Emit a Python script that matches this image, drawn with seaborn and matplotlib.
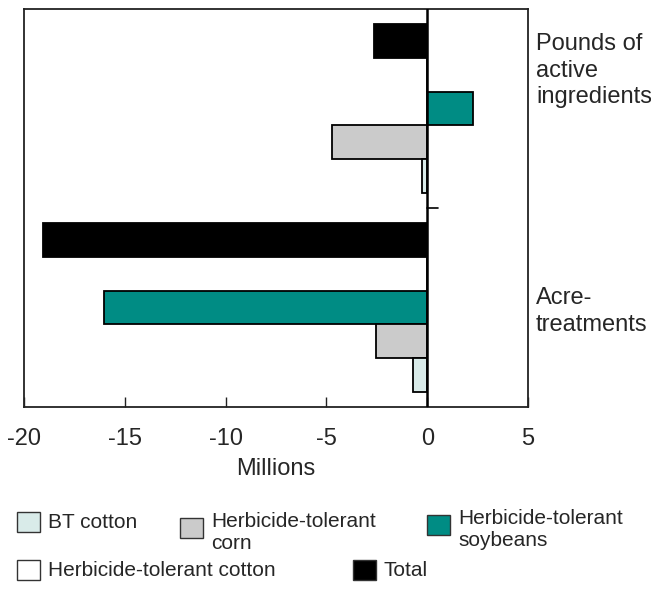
import matplotlib
matplotlib.use("Agg")
import matplotlib.pyplot as plt
from matplotlib.patches import Rectangle
import seaborn as sns
import pandas as pd

# ---- data ----
groups = ["Pounds of active ingredients", "Acre-treatments"]
group_labels = ["Pounds of\nactive\ningredients", "Acre-\ntreatments"]
crops = ["BT cotton", "Herbicide-tolerant corn", "Herbicide-tolerant soybeans",
         "Herbicide-tolerant cotton", "Total"]
legend_labels = ["BT cotton", "Herbicide-tolerant\ncorn", "Herbicide-tolerant\nsoybeans",
                 "Herbicide-tolerant cotton", "Total"]
bt_cotton = [-0.28, -0.68]
ht_corn = [-4.72, -2.52]
ht_soybeans = [2.25, -16.05]
ht_cotton = [0.0, 0.0]
total = [-2.62, -19.05]
x_ticks = [-20, -15, -10, -5, 0, 5]
colors = {"BT cotton": "#d9ebe9", "Herbicide-tolerant corn": "#cbcbcb",
          "Herbicide-tolerant soybeans": "#008c84", "Herbicide-tolerant cotton": "#ffffff",
          "Total": "#000000"}

series = {"BT cotton": bt_cotton, "Herbicide-tolerant corn": ht_corn,
          "Herbicide-tolerant soybeans": ht_soybeans,
          "Herbicide-tolerant cotton": ht_cotton, "Total": total}
rows = []
for crop, vals in series.items():
    for g, v in zip(groups, vals):
        rows.append({"group": g, "crop": crop, "value": v})
df = pd.DataFrame(rows)

sns.set_style("white")
plt.rcParams["font.family"] = ["Liberation Sans", "DejaVu Sans"]

W, H = 651, 607
fig = plt.figure(figsize=(W / 100, H / 100), dpi=100)
ax = fig.add_axes([24 / W, 1 - 407 / H, (528 - 24) / W, (407 - 9) / H])

hue_order = crops[::-1]  # top to bottom inside each group
sns.barplot(data=df, y="group", x="value", hue="crop", hue_order=hue_order,
            order=groups, palette=colors, orient="h", width=0.845,
            edgecolor="black", linewidth=1.3, legend=False, ax=ax, saturation=1)

ax.set_xlim(-20, 5)
ax.set_ylim(1.5, -0.5)
ax.set_xticks(x_ticks)
ax.set_xticklabels([str(t) for t in x_ticks])
ax.tick_params(axis="x", direction="in", length=7, width=1, pad=15,
               labelsize=17, bottom=True, color="#222222")
ax.set_yticks([])
ax.set_ylabel("")
ax.set_xlabel("Millions", fontsize=17, labelpad=6)
for s in ax.spines.values():
    s.set_visible(True)
    s.set_color("#222222")
    s.set_linewidth(1.3)

# zero axis line with group separator tick
ax.axvline(0, color="black", linewidth=1.8, zorder=5)
ax.plot([0, 0.55], [0.5, 0.5], color="black", linewidth=1.2, zorder=5)

# group labels on the right
ax.text(1.016, -0.19, group_labels[0], transform=ax.get_yaxis_transform(),
        ha="left", va="center", fontsize=17, linespacing=1.25)
ax.text(1.016, 1.02, group_labels[1], transform=ax.get_yaxis_transform(),
        ha="left", va="center", fontsize=17, linespacing=1.25)

# custom legend
legend_pos = [(17, 512), (180, 518), (427, 515), (17, 560), (353, 560)]
for crop, lab, (px, py) in zip(crops, legend_labels, legend_pos):
    fig.add_artist(Rectangle((px / W, 1 - (py + 20) / H), 23 / W, 20 / H,
                             transform=fig.transFigure, facecolor=colors[crop],
                             edgecolor="#333333", linewidth=1.0))
    if "\n" in lab:
        fig.text((px + 31) / W, 1 - (py - 6) / H, lab, ha="left", va="top",
                 fontsize=15, linespacing=1.2)
    else:
        fig.text((px + 31) / W, 1 - (py + 10) / H, lab, ha="left", va="center",
                 fontsize=15)

fig.savefig("out.png", dpi=100)
